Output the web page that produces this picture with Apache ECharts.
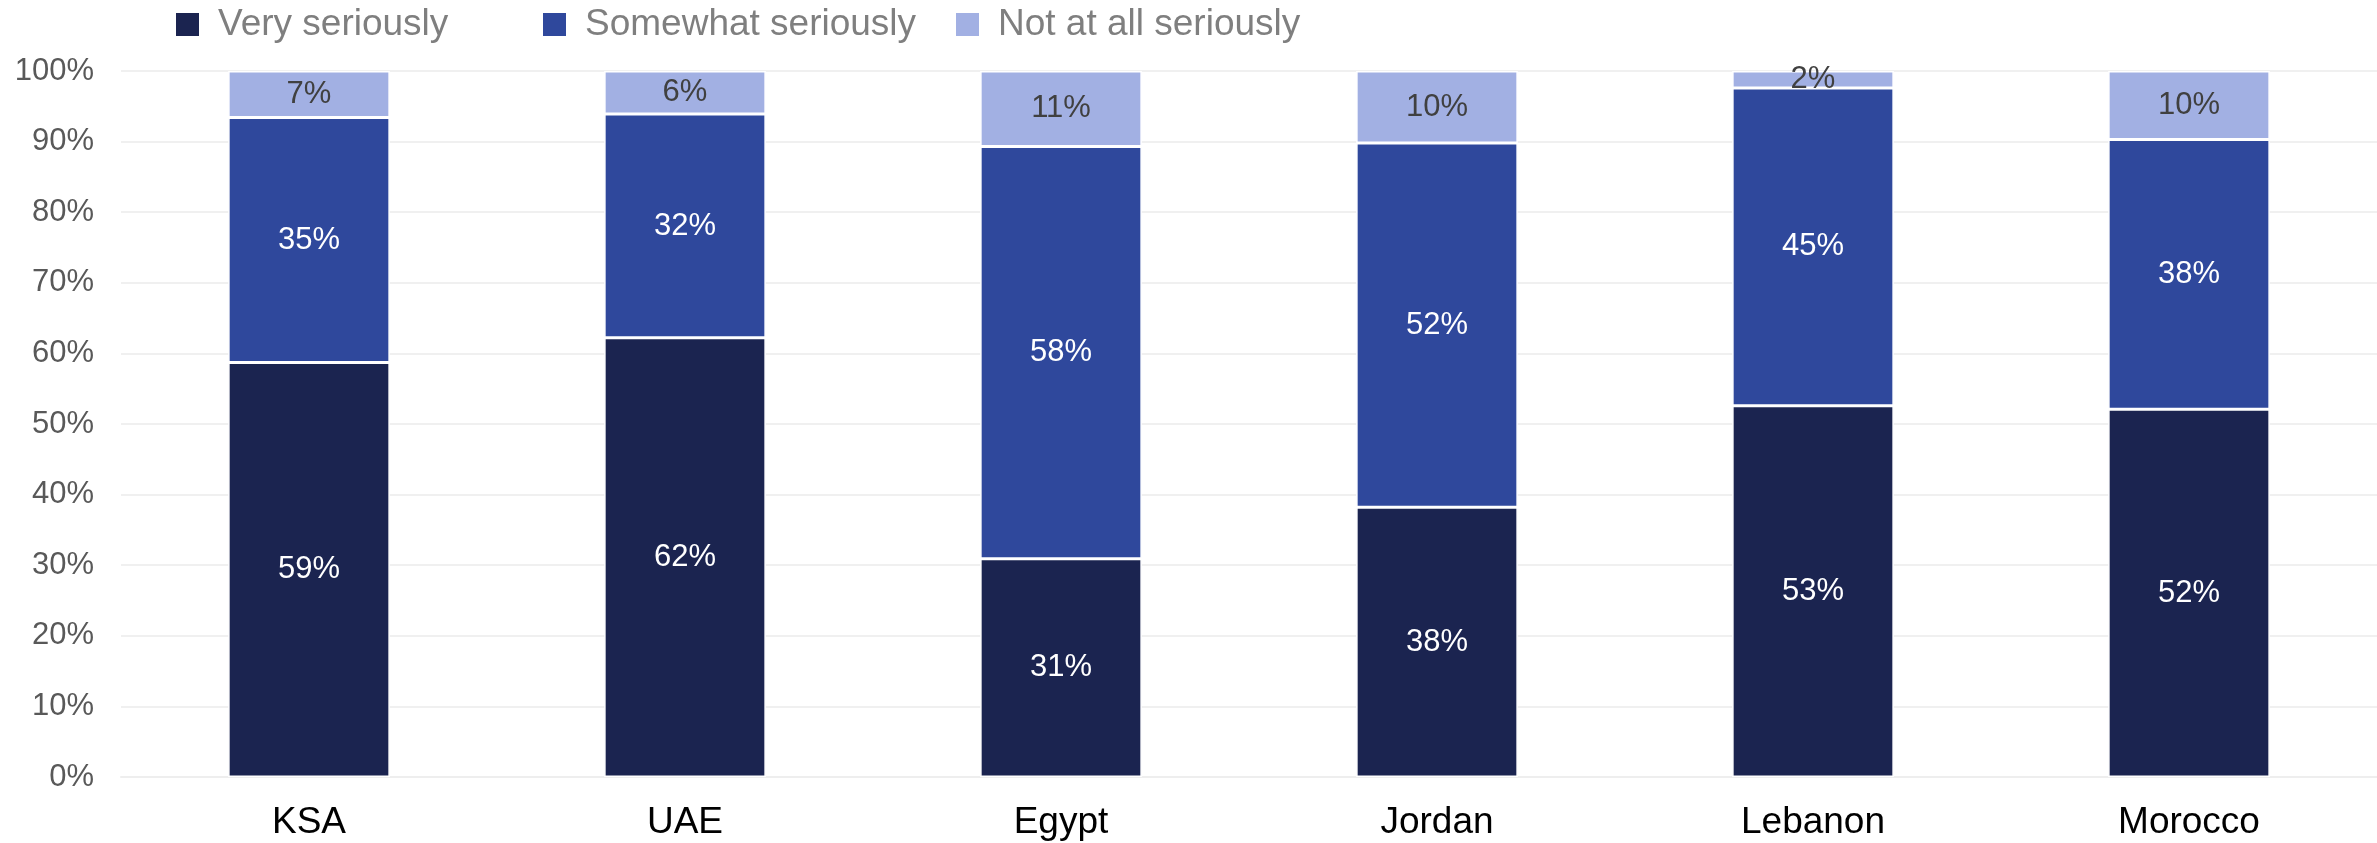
<!DOCTYPE html>
<html>
<head>
<meta charset="utf-8">
<script src="https://cdn.jsdelivr.net/npm/echarts@6/dist/echarts.min.js"></script>
<style>
html,body{margin:0;padding:0;background:#fff;}
#chart{width:2377px;height:843px;}
</style>
</head>
<body>
<div id="chart"></div>
<script>
const categories = ['KSA', 'UAE', 'Egypt', 'Jordan', 'Lebanon', 'Morocco'];
const seriesNames = ['Very seriously', 'Somewhat seriously', 'Not at all seriously'];
const verySeriously = [58.7, 62.2, 30.9, 38.2, 52.6, 52.1];
const somewhatSeriously = [34.7, 31.7, 58.4, 51.6, 45.0, 38.2];
const notAtAllSeriously = [6.6, 6.1, 10.7, 10.2, 2.4, 9.7];
const yTicks = [0, 10, 20, 30, 40, 50, 60, 70, 80, 90, 100];

const colors = ['#1b2450', '#2f489c', '#a2b0e3'];
const labelColors = ['#ffffff', '#ffffff', '#404040'];
const values = [verySeriously, somewhatSeriously, notAtAllSeriously];
const font = 'Liberation Sans, Arial, sans-serif';

const legendLefts = [174, 541, 954];
const legends = seriesNames.map((n, i) => ({
  data: [n],
  left: legendLefts[i],
  top: 6,
  padding: 0,
  itemWidth: 25,
  itemHeight: 25,
  itemGap: 0,
  icon: 'rect',
  textStyle: {fontFamily: font, fontSize: 37, color: '#7f7f7f', padding: [0, 0, 0, 13]},
  selectedMode: false
}));

const chart = echarts.init(document.getElementById('chart'), null, {renderer: 'canvas'});
chart.setOption({
  animation: false,
  backgroundColor: '#ffffff',
  legend: legends,
  grid: {left: 121, right: 0, top: 71, bottom: 66, containLabel: false},
  xAxis: {
    type: 'category',
    data: categories,
    axisLine: {show: true, lineStyle: {color: '#eeeeee', width: 2}},
    axisTick: {show: false},
    axisLabel: {fontFamily: font, fontSize: 37, color: '#000000', margin: 27}
  },
  yAxis: {
    type: 'value',
    min: yTicks[0],
    max: yTicks[yTicks.length - 1],
    interval: 10,
    axisLine: {show: false},
    axisTick: {show: false},
    splitLine: {lineStyle: {color: '#f0f0f0', width: 2}},
    axisLabel: {fontFamily: font, fontSize: 31, color: '#595959', margin: 27, formatter: '{value}%'}
  },
  series: seriesNames.map((n, i) => ({
    name: n,
    type: 'bar',
    stack: 'total',
    barWidth: '43%',
    data: values[i],
    itemStyle: {color: colors[i], borderColor: '#ffffff', borderWidth: 1.5},
    label: {
      show: true,
      position: 'inside',
      fontFamily: font,
      fontSize: 31,
      color: labelColors[i],
      formatter: p => Math.round(p.value) + '%'
    }
  }))
});
</script>
</body>
</html>
